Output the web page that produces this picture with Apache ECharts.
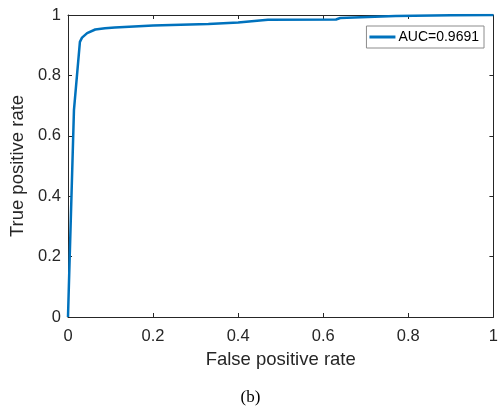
<!DOCTYPE html>
<html>
<head>
<meta charset="utf-8">
<script src="https://cdn.jsdelivr.net/npm/echarts@6/dist/echarts.min.js"></script>
<style>
  html, body { margin: 0; padding: 0; background: #fff; }
  #chart { width: 501px; height: 412px; }
</style>
</head>
<body>
<div id="chart"></div>
<script>
// ROC curve points
const fpr = [0, 0.002, 0.014, 0.028, 0.033, 0.045, 0.064, 0.087, 0.11, 0.2, 0.33, 0.4, 0.47, 0.63, 0.64, 0.77, 0.9, 1];
const tpr = [0, 0.1, 0.685, 0.911, 0.925, 0.94, 0.952, 0.956, 0.959, 0.965, 0.970, 0.975, 0.984, 0.985, 0.99, 0.997, 0.999, 1];
const seriesName = 'AUC=0.9691';

const chart = echarts.init(document.getElementById('chart'));

const axisColor = '#262626';
const font = 'Liberation Sans, Arial, sans-serif';

// plain box axis (MATLAB style: box on, inward ticks)
const boxAxis = (pos) => ({
  type: 'value',
  position: pos,
  min: 0,
  max: 1,
  interval: 0.2,
  axisLine: { show: true, onZero: false, lineStyle: { color: axisColor, width: 1 } },
  axisTick: { show: true, inside: true, length: 4, lineStyle: { color: axisColor } },
  splitLine: { show: false },
  axisLabel: { show: false }
});

const tickLabel = (margin) => ({
  show: true, margin: margin, color: axisColor, fontSize: 16.5, fontFamily: font,
  formatter: v => String(+v.toFixed(1))
});

const xBottom = Object.assign(boxAxis('bottom'), {
  name: 'False positive rate',
  nameLocation: 'middle',
  nameGap: 33,
  nameTextStyle: { color: axisColor, fontSize: 18.5, fontFamily: font },
  axisLabel: tickLabel(11)
});

const yLeft = Object.assign(boxAxis('left'), {
  name: 'True positive rate',
  nameLocation: 'middle',
  nameGap: 34,
  nameTextStyle: { color: axisColor, fontSize: 18.5, fontFamily: font },
  axisLabel: tickLabel(7)
});

chart.setOption({
  animation: false,
  grid: { left: 68, right: 6, top: 15, bottom: 95, containLabel: false },
  title: {
    text: '(b)',
    left: 'center',
    top: 384,
    textStyle: { color: '#000', fontSize: 17, fontWeight: 'normal', fontFamily: 'Liberation Serif, Times New Roman, serif' }
  },
  legend: {
    data: [seriesName],
    right: 17,
    top: 26,
    orient: 'vertical',
    borderColor: '#8c8c8c',
    borderWidth: 1,
    backgroundColor: '#fff',
    padding: [4, 5, 4, 3],
    itemWidth: 26,
    itemHeight: 3,
    itemGap: 0,
    icon: 'rect',
    textStyle: { color: '#000', fontSize: 14, fontFamily: font, padding: [0, 0, 0, -2] }
  },
  xAxis: [xBottom, boxAxis('top')],
  yAxis: [yLeft, boxAxis('right')],
  series: [{
    name: seriesName,
    type: 'line',
    xAxisIndex: 0,
    yAxisIndex: 0,
    showSymbol: false,
    smooth: false,
    lineStyle: { color: '#0072BD', width: 2.5 },
    itemStyle: { color: '#0072BD' },
    data: fpr.map((x, i) => [x, tpr[i]])
  }]
});
</script>
</body>
</html>
